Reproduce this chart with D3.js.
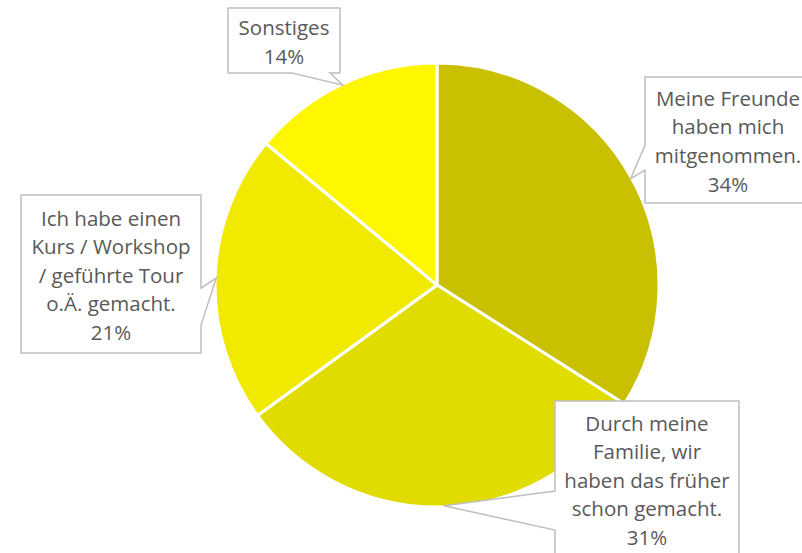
<!DOCTYPE html>
<html>
<head>
<meta charset="utf-8">
<script src="https://cdn.jsdelivr.net/npm/d3@7"></script>
<style>
  html, body { margin: 0; padding: 0; background: #fff; }
  svg { display: block; }
</style>
</head>
<body>
<svg id="chart" width="802" height="553"></svg>
<script>
// ---- data ----
const categories = [
  ["Meine Freunde", "haben mich", "mitgenommen."],
  ["Durch meine", "Familie, wir", "haben das früher", "schon gemacht."],
  ["Ich habe einen", "Kurs / Workshop", "/ geführte Tour", "o.Ä. gemacht."],
  ["Sonstiges"]
];
const values = [34, 31, 21, 14];
const percentLabels = ["34%", "31%", "21%", "14%"];
const colors = ["#C8C000", "#E0DC00", "#F1E900", "#FFF700"];

// ---- callout box layout (separate from data) ----
const boxes = [
  { x: 645, y: 77, w: 166, h: 126, side: "left", a: 145, b: 170 },
  { x: 555, y: 401, w: 184, h: 170, side: "left", a: 491, b: 530 },
  { x: 21, y: 195, w: 180, h: 158, side: "right", a: 288, b: 325 },
  { x: 228, y: 8, w: 112, h: 65, side: "bottom", a: 292, b: 330 }
];

const svg = d3.select("#chart");
const cx = 437, cy = 285, r = 222;

const pie = d3.pie().sort(null).value(d => d).startAngle(0).endAngle(2 * Math.PI);
const arcs = pie(values);
const arc = d3.arc().innerRadius(0).outerRadius(r);
const tipArc = d3.arc().innerRadius(r * 0.995).outerRadius(r * 0.995);

const g = svg.append("g").attr("transform", `translate(${cx},${cy})`);
g.selectAll("path.slice")
  .data(arcs)
  .join("path")
  .attr("class", "slice")
  .attr("d", arc)
  .attr("fill", (d, i) => colors[i])
  .attr("stroke", "#fff")
  .attr("stroke-width", 3)
  .attr("stroke-linejoin", "round");

// callouts
const fontSize = 20.5, lineH = 28.6;
arcs.forEach((d, i) => {
  const bx = boxes[i];
  const c = tipArc.centroid(d);
  const tx = cx + c[0], ty = cy + c[1];
  const x0 = bx.x, y0 = bx.y, x1 = bx.x + bx.w, y1 = bx.y + bx.h;
  let p;
  if (bx.side === "left") {
    p = `M${x0},${y0}H${x1}V${y1}H${x0}V${bx.b}L${tx},${ty}L${x0},${bx.a}Z`;
  } else if (bx.side === "right") {
    p = `M${x0},${y0}H${x1}V${bx.a}L${tx},${ty}L${x1},${bx.b}V${y1}H${x0}Z`;
  } else {
    p = `M${x0},${y0}H${x1}V${y1}H${bx.b}L${tx},${ty}L${bx.a},${y1}H${x0}Z`;
  }
  svg.append("path")
    .attr("d", p)
    .attr("fill", "#fff")
    .attr("stroke", "#BFBFBF")
    .attr("stroke-width", 1.5);

  const lines = categories[i].concat([percentLabels[i]]);
  const totalH = lines.length * lineH;
  const midX = bx.x + bx.w / 2;
  const startY = y0 + (i === 1 ? 9 : (bx.h - totalH) / 2 + 2.5);
  const t = svg.append("text")
    .attr("font-family", "'Open Sans', sans-serif")
    .attr("font-size", fontSize)
    .attr("fill", "#595959")
    .attr("text-anchor", "middle");
  lines.forEach((ln, k) => {
    t.append("tspan")
      .attr("x", midX)
      .attr("y", startY + k * lineH + lineH * 0.72)
      .text(ln);
  });
});
</script>
</body>
</html>
